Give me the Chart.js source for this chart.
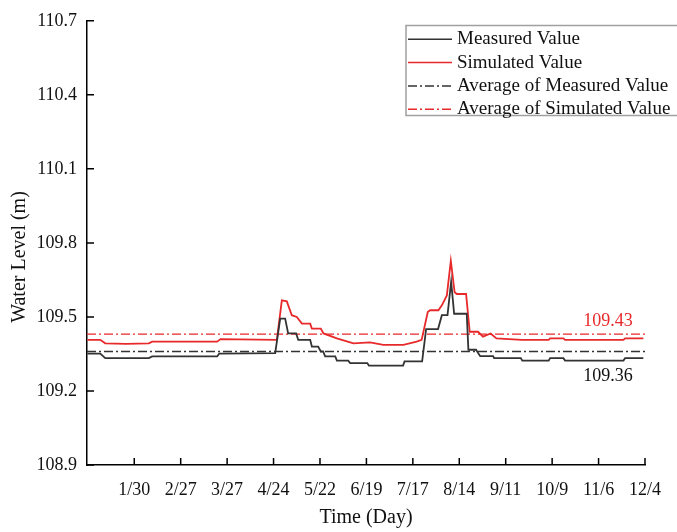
<!DOCTYPE html>
<html>
<head>
<meta charset="utf-8">
<script src="https://cdn.jsdelivr.net/npm/chart.js@4.4.0/dist/chart.umd.min.js"></script>
<style>
  body { margin: 0; background: #fff; }
</style>
</head>
<body>
<canvas id="levelChart" width="677" height="532"></canvas>
<script>
// x axis: day of year, ticks every 28 days
const tickDays = [30, 58, 86, 114, 142, 170, 198, 226, 254, 282, 310, 338];
const tickLabels = ["1/30", "2/27", "3/27", "4/24", "5/22", "6/19", "7/17", "8/14", "9/11", "10/9", "11/6", "12/4"];
const yTicks = [108.9, 109.2, 109.5, 109.8, 110.1, 110.4, 110.7];

// measured water level
const measuredDays = [1.7, 9.5, 12.5, 38.8, 40.8, 80, 81.2, 115, 118, 121, 122.8, 127.6, 128.9, 136.1, 137.1, 140.9,
  142.5, 143.9, 145.1, 151.2, 152.2, 159, 160.2, 170.5, 171.5, 192.1, 193, 202.4, 203.6, 206, 213.2, 215.5, 218.9,
  221.1, 222.9, 230.5, 231.5, 236.1, 238.6, 246.4, 247, 263.1, 264, 279.9, 280.8, 288.8, 289.8, 325, 326, 337];
const measuredLevels = [109.351, 109.351, 109.333, 109.333, 109.34, 109.34, 109.351, 109.353, 109.493, 109.493, 109.433,
  109.433, 109.407, 109.407, 109.38, 109.38, 109.36, 109.36, 109.34, 109.34, 109.323, 109.323, 109.313, 109.313,
  109.303, 109.303, 109.32, 109.32, 109.32, 109.451, 109.451, 109.507, 109.507, 109.643, 109.513, 109.513, 109.367,
  109.367, 109.341, 109.341, 109.333, 109.333, 109.323, 109.323, 109.333, 109.333, 109.323, 109.323, 109.333, 109.333];

// simulated water level
const simulatedDays = [1.7, 9.5, 12.5, 25, 38.8, 40.8, 80, 82, 116, 119, 122, 125, 128, 131.1, 136.1, 137.1, 142.5,
  144.1, 152.2, 157.2, 162.2, 172.2, 180.2, 192.3, 200.3, 203.3, 207, 208.4, 213.4, 215.5, 218.5, 220.9, 223.2,
  224.5, 230.1, 232.3, 237.3, 240.3, 244.9, 248.4, 263.7, 279.9, 280.8, 288.8, 289.8, 325, 326, 337];
const simulatedLevels = [109.407, 109.407, 109.393, 109.391, 109.393, 109.40, 109.40, 109.41, 109.407, 109.567, 109.563,
  109.507, 109.50, 109.473, 109.473, 109.453, 109.453, 109.433, 109.413, 109.403, 109.393, 109.397, 109.387, 109.387,
  109.40, 109.407, 109.52, 109.527, 109.527, 109.547, 109.587, 109.727, 109.60, 109.593, 109.593, 109.44, 109.44,
  109.42, 109.433, 109.413, 109.407, 109.407, 109.413, 109.413, 109.407, 109.407, 109.413, 109.413];

const avgMeasured = 109.36;
const avgSimulated = 109.43;
const xRange = [1.5, 338];

const black = "#333333";
const red = "#e8292b";
const serif = "'Liberation Serif', 'Times New Roman', serif";

function pairs(xs, ys) {
  return xs.map((x, i) => ({ x: x, y: ys[i] }));
}

// inward ticks, legend box, average labels and y title
const extras = {
  id: "extras",
  afterDraw(chart) {
    const ctx = chart.ctx;
    const xs = chart.scales.x, ys = chart.scales.y;
    const area = chart.chartArea;
    ctx.save();
    ctx.strokeStyle = "#000";
    ctx.lineWidth = 1.5;
    ctx.beginPath();
    yTicks.forEach(v => {
      const py = ys.getPixelForValue(v);
      ctx.moveTo(area.left, py);
      ctx.lineTo(area.left + 7, py);
    });
    tickDays.forEach(d => {
      const px = xs.getPixelForValue(d);
      ctx.moveTo(px, area.bottom);
      ctx.lineTo(px, area.bottom - 7);
    });
    ctx.stroke();

    // average value labels
    ctx.font = "18px " + serif;
    ctx.textAlign = "center";
    ctx.textBaseline = "middle";
    const lx = xs.getPixelForValue(315.7);
    ctx.fillStyle = red;
    ctx.fillText(avgSimulated.toFixed(2), lx, ys.getPixelForValue(avgSimulated) - 12.5);
    ctx.fillStyle = "#111";
    ctx.fillText(avgMeasured.toFixed(2), lx, ys.getPixelForValue(avgMeasured) + 25);

    // y axis title
    ctx.save();
    ctx.font = "20px " + serif;
    ctx.translate(20, 257);
    ctx.rotate(-Math.PI / 2);
    ctx.fillStyle = "#111";
    ctx.fillText("Water Level (m)", 0, 0);
    ctx.restore();

    // legend
    ctx.fillStyle = "#fff";
    ctx.fillRect(406, 25.5, 290, 90);
    ctx.strokeStyle = "#a0a0a0";
    ctx.lineWidth = 1.5;
    ctx.strokeRect(406, 25.5, 290, 90);
    ctx.textAlign = "left";
    ctx.font = "19px " + serif;
    chart.data.datasets.forEach((ds, i) => {
      const ry = 39.3 + i * 23.3;
      ctx.strokeStyle = ds.borderColor;
      ctx.lineWidth = 1.5;
      ctx.setLineDash(ds.borderDash || []);
      ctx.beginPath();
      ctx.moveTo(408, ry);
      ctx.lineTo(452, ry);
      ctx.stroke();
      ctx.setLineDash([]);
      ctx.fillStyle = "#111";
      ctx.fillText(ds.label, 457, ry);
    });
    ctx.restore();
  }
};

new Chart(document.getElementById("levelChart"), {
  type: "line",
  data: {
    datasets: [{
      label: "Measured Value",
      data: pairs(measuredDays, measuredLevels),
      borderColor: black,
      borderWidth: 1.8,
      pointRadius: 0
    }, {
      label: "Simulated Value",
      data: pairs(simulatedDays, simulatedLevels),
      borderColor: red,
      borderWidth: 1.8,
      pointRadius: 0
    }, {
      label: "Average of Measured Value",
      data: pairs(xRange, [avgMeasured, avgMeasured]),
      borderColor: black,
      borderWidth: 1.3,
      borderDash: [9, 3, 2, 3],
      pointRadius: 0
    }, {
      label: "Average of Simulated Value",
      data: pairs(xRange, [avgSimulated, avgSimulated]),
      borderColor: red,
      borderWidth: 1.3,
      borderDash: [9, 3, 2, 3],
      pointRadius: 0
    }]
  },
  options: {
    responsive: false,
    animation: false,
    layout: { padding: { top: 15, right: 32, left: 0, bottom: 0 } },
    plugins: {
      legend: { display: false },
      tooltip: { enabled: false }
    },
    scales: {
      x: {
        type: "linear",
        min: xRange[0],
        max: xRange[1],
        afterBuildTicks: s => { s.ticks = tickDays.map(v => ({ value: v })); },
        afterFit: s => { s.height = 67; },
        grid: { display: false, drawTicks: false },
        border: { display: true, color: "#000", width: 1.5 },
        ticks: {
          padding: 14,
          maxRotation: 0,
          autoSkip: false,
          color: "#111",
          font: { family: serif, size: 18 },
          callback: v => tickLabels[tickDays.indexOf(v)]
        },
        title: {
          display: true,
          text: "Time (Day)",
          color: "#111",
          font: { family: serif, size: 20 },
          padding: { top: 4, bottom: 2 }
        }
      },
      y: {
        min: yTicks[0],
        max: yTicks[yTicks.length - 1],
        afterBuildTicks: s => { s.ticks = yTicks.map(v => ({ value: v })); },
        afterFit: s => { s.width = 87; },
        grid: { display: false, drawTicks: false },
        border: { display: true, color: "#000", width: 1.5 },
        ticks: {
          padding: 10,
          color: "#111",
          font: { family: serif, size: 18 },
          callback: v => v.toFixed(1)
        }
      }
    }
  },
  plugins: [extras]
});
</script>
</body>
</html>
